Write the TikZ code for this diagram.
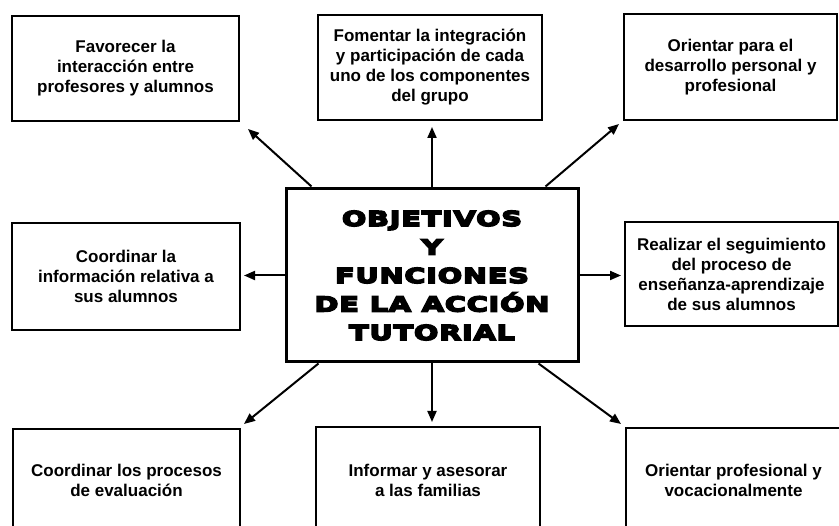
\documentclass[tikz,border=0pt]{standalone}
\usepackage{fontspec}
\setmainfont{Liberation Sans}
\newfontfamily\heavyfont{DejaVu Sans Bold}[FakeStretch=1.4,FakeBold=8,LetterSpace=4]
\usetikzlibrary{arrows.meta,calc}
\begin{document}
\begin{tikzpicture}[x=1pt,y=-1pt,
  box/.style={draw, line width=2pt, align=center, inner sep=0pt,
    font=\fontsize{17}{20}\selectfont\bfseries},
  mainbox/.style={draw, line width=3pt, align=center, inner sep=0pt,
    font=\heavyfont\fontsize{20.5}{28.5}\selectfont},
  arr/.style={-{Triangle[length=11pt,width=9pt]}, line width=2pt}]
\fill[white] (0,0) rectangle (839,526);
\useasboundingbox (0,0) rectangle (839,526);

\node[box, minimum width=227pt, minimum height=105pt] (tl) at (125.5,68.5)
  {Favorecer la\\interacción entre\\profesores y alumnos};
\node[box, minimum width=224pt, minimum height=105pt] (tm) at (430,67.5)
  {Fomentar la integración\\y participación de cada\\uno de los componentes\\del grupo};
\node[box, minimum width=213pt, minimum height=106pt] (tr) at (730.5,67)
  {Orientar para el\\desarrollo personal y\\profesional};
\node[box, minimum width=228pt, minimum height=107pt] (ml) at (126,276.5)
  {Coordinar la\\información relativa a\\sus alumnos};
\node[box, minimum width=213pt, minimum height=104pt] (mr) at (731.5,274)
  {Realizar el seguimiento\\del proceso de\\enseñanza-aprendizaje\\de sus alumnos};
\node[mainbox, minimum width=292pt, minimum height=173pt] (c) at (432,275.5)
  {OBJETIVOS\\Y\\FUNCIONES\\DE LA ACCIÓN\\TUTORIAL};
\node[box, minimum width=227pt, minimum height=102pt] (bl) at (126.5,480)
  {Coordinar los procesos\\de evaluación};
\node[box, minimum width=224pt, minimum height=106pt] (bm) at (428,480)
  {Informar y asesorar\\a las familias};
\node[box, minimum width=215pt, minimum height=104pt] (br) at (733.5,480)
  {Orientar profesional y\\vocacionalmente};

\draw[arr] ($(c.north west)+(27,-1)$) -- ($(tl.south east)+(8,7)$);
\draw[arr] (c.north) -- ($(c.north |- tm.south)+(0,6)$);
\draw[arr] ($(c.north east)+(-34,-1)$) -- ($(tr.south west)+(-4,3)$);
\draw[arr] (c.west) -- ($(c.west -| ml.east)+(3,0)$);
\draw[arr] (c.east) -- ($(c.east -| mr.west)+(-3,0)$);
\draw[arr] ($(c.south west)+(34,0)$) -- ($(bl.north east)+(3,-4)$);
\draw[arr] (c.south) -- ($(c.south |- bm.north)+(0,-4)$);
\draw[arr] ($(c.south east)+(-41,0)$) -- ($(br.north west)+(-4,-3)$);
\end{tikzpicture}
\end{document}
